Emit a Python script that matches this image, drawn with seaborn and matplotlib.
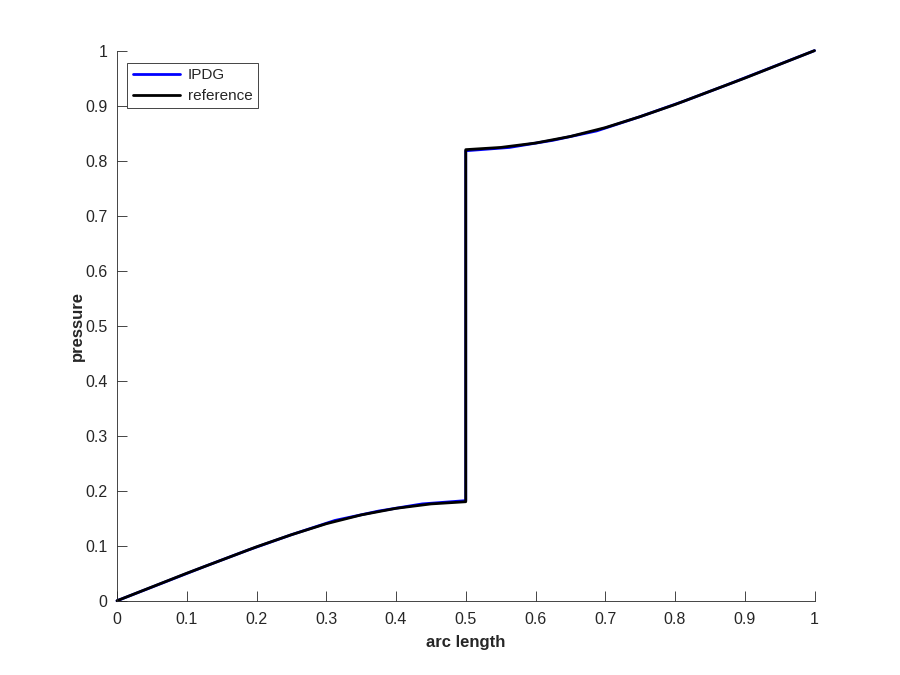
import matplotlib
matplotlib.use("Agg")
import matplotlib.pyplot as plt
import seaborn as sns
import pandas as pd

arc_ref = [0, 0.05, 0.1, 0.15, 0.2, 0.25, 0.3, 0.35, 0.4, 0.45, 0.5,
           0.5, 0.55, 0.6, 0.65, 0.7, 0.75, 0.8, 0.85, 0.9, 0.95, 1.0]
p_ref = [0, 0.025, 0.05, 0.074, 0.098, 0.12, 0.14, 0.156, 0.168, 0.176, 0.18,
         0.82, 0.824, 0.832, 0.844, 0.86, 0.88, 0.902, 0.926, 0.95, 0.975, 1.0]

arc_ipdg = [0, 0.0625, 0.125, 0.1875, 0.25, 0.3125, 0.375, 0.4375, 0.5,
            0.5, 0.5625, 0.625, 0.6875, 0.75, 0.8125, 0.875, 0.9375, 1.0]
p_ipdg = [0, 0.031, 0.062, 0.092, 0.12, 0.146, 0.163, 0.176, 0.182,
          0.818, 0.824, 0.837, 0.854, 0.88, 0.908, 0.938, 0.969, 1.0]

sns.set_style("white")
plt.rcParams['font.family'] = ['Liberation Sans', 'DejaVu Sans']

fig = plt.figure(figsize=(9, 6.75), dpi=100)
ax = fig.add_axes([0.13, 0.11, 0.775, 0.815])

df_i = pd.DataFrame({"x": arc_ipdg, "y": p_ipdg})
df_r = pd.DataFrame({"x": arc_ref, "y": p_ref})
sns.lineplot(data=df_i, x="x", y="y", sort=False, estimator=None, color="#0000ff",
             linewidth=2, label="IPDG", ax=ax, clip_on=False)
sns.lineplot(data=df_r, x="x", y="y", sort=False, estimator=None, color="black",
             linewidth=2, label="reference", ax=ax, clip_on=False)

ax.set_xlim(0, 1)
ax.set_ylim(0, 1)
ax.set_xticks([i / 10 for i in range(11)])
ax.set_yticks([i / 10 for i in range(11)])
ax.set_xticklabels(["0", "0.1", "0.2", "0.3", "0.4", "0.5", "0.6", "0.7", "0.8", "0.9", "1"])
ax.set_yticklabels(["0", "0.1", "0.2", "0.3", "0.4", "0.5", "0.6", "0.7", "0.8", "0.9", "1"])
ax.set_xlabel("arc length", fontsize=12, fontweight="bold", labelpad=6)
ax.set_ylabel("pressure", fontsize=12, fontweight="bold", labelpad=0)
for s in ["top", "right"]:
    ax.spines[s].set_visible(False)
for s in ["left", "bottom"]:
    ax.spines[s].set_color("#262626")
    ax.spines[s].set_linewidth(0.6)
ax.tick_params(axis="both", which="major", direction="in", length=7, width=0.6,
               color="#262626", labelsize=11.5, labelcolor="#262626",
               bottom=True, left=True, top=False, right=False)
ax.tick_params(axis="x", pad=8)
ax.tick_params(axis="y", pad=7)

leg = ax.legend(loc="upper left", bbox_to_anchor=(0.015, 0.978), fancybox=False,
                edgecolor="#262626", framealpha=1, fontsize=11, handlelength=3.1,
                borderpad=0.35, labelspacing=0.45, handletextpad=0.5,
                borderaxespad=0.0)
leg.get_frame().set_linewidth(0.6)

fig.savefig("out.png", dpi=100)
